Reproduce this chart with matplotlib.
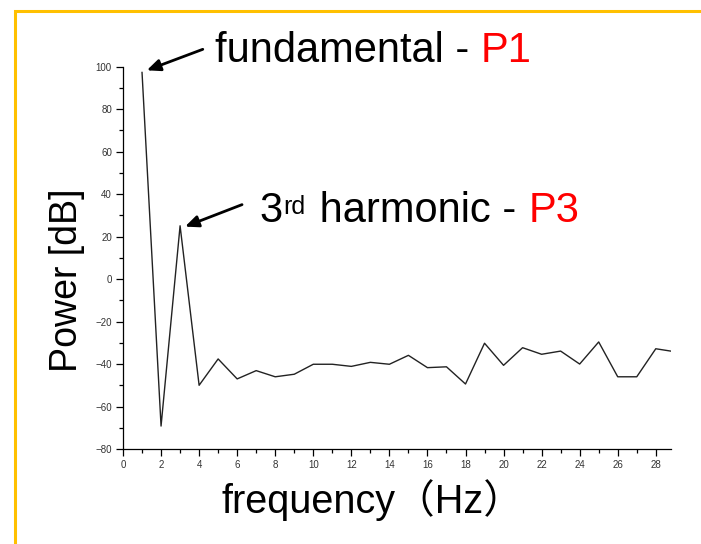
import matplotlib
matplotlib.use('Agg')
import matplotlib.pyplot as plt
from matplotlib.patches import Rectangle

plt.rcParams['font.family'] = ['Liberation Sans', 'Noto Sans CJK SC', 'DejaVu Sans']

# 频谱数据
freq = list(range(1, 30))
power = [97.3, -69.2, 25.1, -50.0, -37.6, -47.0, -43.1, -46.0, -44.8, -40.1,
         -40.1, -41.1, -39.2, -40.1, -35.9, -41.7, -41.3, -49.4, -30.2, -40.6,
         -32.3, -35.4, -33.9, -40.0, -29.6, -46.0, -46.0, -32.8, -34.2]
xticks = list(range(0, 29, 2))
yticks = list(range(-80, 101, 20))

W, H = 701, 544
fig = plt.figure(figsize=(W / 100, H / 100), dpi=100)
ax = fig.add_axes([123 / W, 95 / H, 548 / W, 382.3 / H])

ax.plot(freq, power, color='#222222', lw=1.0)
ax.set_xlim(0, 28.8)
ax.set_ylim(-80, 100)
ax.set_xticks(xticks)
ax.set_yticks(yticks)
ax.set_xticks(range(0, 29), minor=True)
ax.set_yticks(range(-80, 101, 10), minor=True)
ax.tick_params(which='major', length=5, width=0.9, labelsize=7, labelcolor='#333333', pad=3)
ax.tick_params(which='minor', length=3, width=0.9)
for s in ['top', 'right']:
    ax.spines[s].set_visible(False)
for s in ['left', 'bottom']:
    ax.spines[s].set_linewidth(0.9)

ax.set_ylabel('Power [dB]', fontsize=27)
ax.yaxis.set_label_coords(-0.069, 0.442)

# x轴标签: frequency（Hz）
fig.text(372 / W, 1 - 513 / H, 'frequency（Hz）', fontsize=28.5, va='baseline', ha='center')

# 箭头
ap = dict(arrowstyle='-|>,head_length=0.8,head_width=0.35', color='black', lw=2, shrinkA=0, shrinkB=0)
ax.annotate('', xy=(freq[0] + 0.25, power[0] + 1), xytext=(56, 21), textcoords='offset pixels', arrowprops=ap)
ax.annotate('', xy=(freq[2] + 0.26, power[2] - 0.4), xytext=(57, 22), textcoords='offset pixels', arrowprops=ap)

# 标注文字
t1 = fig.text(215 / W, 1 - 61.7 / H, 'fundamental - ', fontsize=30, va='baseline')
ax.annotate('P1', xy=(1, 0), xycoords=t1, va='bottom', fontsize=30, color='red')

t3 = fig.text(259 / W, 1 - 222 / H, '3', fontsize=30, va='baseline')
trd = ax.annotate('rd', xy=(1, 1), xycoords=t3, xytext=(1, -4), textcoords='offset pixels',
                  va='top', fontsize=18)
th = ax.annotate(' harmonic - ', xy=(1, 0), xycoords=(trd, t3), xytext=(3, 0), textcoords='offset pixels',
                 va='bottom', fontsize=30)
ax.annotate('P3', xy=(1, 0), xycoords=th, va='bottom', fontsize=30, color='red')

# 黄色边框
fig.patches.append(Rectangle((15 / W, -0.1), 1.2, 1.1 - 11 / H, transform=fig.transFigure,
                             fill=False, edgecolor='#FFC000', lw=2.2))

fig.savefig('out.png', dpi=100)
